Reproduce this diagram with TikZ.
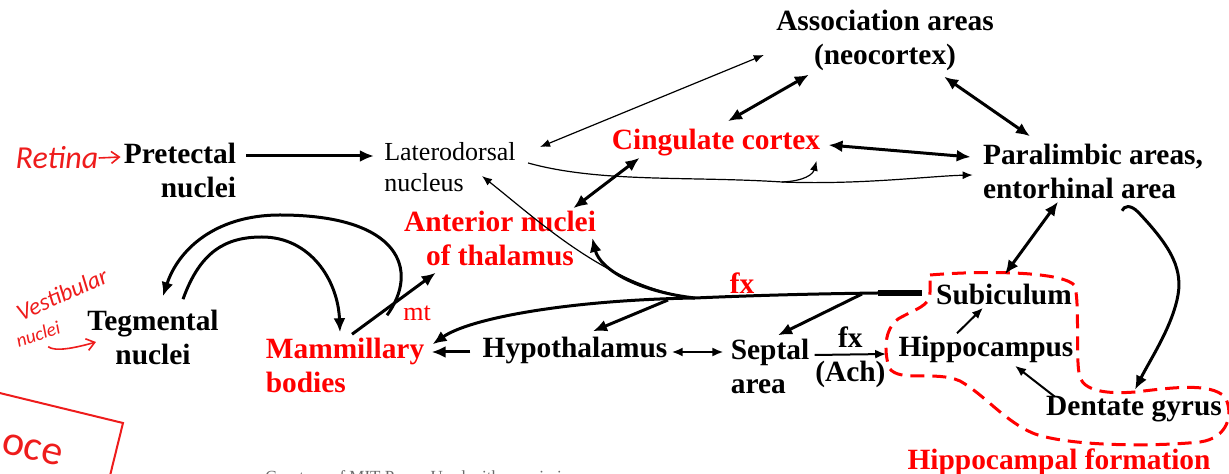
\documentclass[tikz,border=0pt]{standalone}
\usepackage{fontspec}
\setmainfont{Liberation Serif}
\newfontfamily\handfont{Carlito}
\usepackage{tikz}
\usepackage{xcolor}
\usetikzlibrary{arrows.meta,calc}
\definecolor{ink}{HTML}{000000}
\definecolor{limred}{HTML}{FF0000}
\definecolor{handred}{HTML}{EE1C1C}
\definecolor{notegray}{HTML}{6A6A6A}
\tikzset{
  areabox/.style={inner sep=0pt,align=center,text=ink,
                  font=\fontsize{14.7}{17}\selectfont\bfseries},
  redbox/.style={areabox,text=limred},
  plainbox/.style={inner sep=0pt,align=left,text=ink,
                   font=\fontsize{13}{15.5}\selectfont},
  thickarr/.style={-{Latex[length=7pt,width=6pt]},line width=1.5pt},
  dblarr/.style={{Latex[length=7pt,width=6pt]}-{Latex[length=7pt,width=6pt]},line width=1.5pt},
  midarr/.style={-{Latex[length=5.5pt,width=4.5pt]},line width=1pt},
  midboth/.style={{Latex[length=5.5pt,width=4.5pt]}-{Latex[length=5.5pt,width=4.5pt]},line width=1pt},
  thinarr/.style={-{Latex[length=5pt,width=4pt]},line width=0.6pt},
  thinboth/.style={{Latex[length=5pt,width=4pt]}-{Latex[length=5pt,width=4pt]},line width=0.6pt},
  handink/.style={inner sep=0pt,text=handred,font=\handfont\itshape\fontsize{16}{18}\selectfont},
  handarr/.style={-{Straight Barb[length=4pt,width=6pt]},draw=handred,line width=0.8pt},
  hippoline/.style={draw=limred,line width=1.5pt,dash pattern=on 7pt off 4pt}
}

\begin{document}
\begin{tikzpicture}[x=0.5pt,y=-0.5pt,>=Latex]
  \useasboundingbox (0,0) rectangle (1229,474);
  \clip (0,0) rectangle (1229,474);

  \node[areabox] (assoc) at (885,40) {Association areas\\(neocortex)};
  \node[areabox,align=right] (pret) at (180,170) {Pretectal\\nuclei};
  \node[plainbox] (later) at (450,167) {Laterodorsal\\nucleus};
  \node[redbox] (cing) at (716,143) {Cingulate cortex};
  \node[areabox,align=left] (para) at (1093,171) {Paralimbic areas,\\entorhinal area};
  \node[redbox] (ant) at (500,238) {Anterior nuclei\\of thalamus};
  \node[areabox] (teg) at (153,337) {Tegmental\\nuclei};
  \node[redbox,align=left] (mam) at (345,365) {Mammillary\\bodies};
  \node[areabox] (hypo) at (575,350) {Hypothalamus};
  \node[areabox,align=left] (sept) at (770,366) {Septal\\area};
  \node[areabox] (hippo) at (986,349) {Hippocampus};
  \node[areabox] (subic) at (1004,294) {Subiculum};
  \node[areabox] (dent) at (1134,409) {Dentate gyrus};
  \node[redbox] (hform) at (1059,462) {Hippocampal formation};
  \node[redbox] (fxlbl) at (742,283) {fx};
  \node[plainbox,text=limred] (mtlbl) at (417,313) {mt};

  \draw[hippoline] (930,275) .. controls (990,270) and (1065,272) .. (1075,286)
    .. controls (1080,310) and (1075,360) .. (1080,378)
    .. controls (1086,392) and (1110,394) .. (1135,392)
    .. controls (1170,388) and (1210,382) .. (1225,397)
    .. controls (1234,414) and (1228,438) .. (1200,442)
    .. controls (1150,447) and (1070,446) .. (1035,434)
    .. controls (1005,422) and (985,395) .. (960,381)
    .. controls (935,370) and (900,383) .. (889,368)
    .. controls (884,350) and (884,330) .. (898,319)
    .. controls (915,309) and (931,306) .. (930,292)
    -- cycle;

  \draw[thickarr] ($(pret.east)+(10,-14)$) -- ($(later.west)+(-10,-11)$);
  \draw[thinboth] ($(assoc.west)+(-12,15)$) -- ($(later.north east)+(24,5)$);
  \coordinate (ldfork) at (782,182);
  \draw[thinarr] ($(later.east)+(12,-4)$) .. controls (600,183) and (690,176) .. (ldfork)
    .. controls (860,185) and (930,176) .. ($(para.west)+(-10,4)$);
  \draw[thinarr] (ldfork) .. controls (805,181) and (813,174) .. ($(cing.south east)+(-4,4)$);
  \draw[dblarr] ($(cing.north)+(12,-8)$) -- ($(assoc.south west)+(33,4)$);
  \draw[dblarr] ($(assoc.south east)+(-50,6)$) -- ($(para.north)+(-63,-7)$);
  \draw[dblarr] ($(cing.east)+(8,2)$) -- ($(para.west)+(-12,-14)$);
  \draw[dblarr] ($(cing.south west)+(28,1)$) -- ($(ant.north east)+(-23,-2)$);
  \draw[dblarr] ($(para.south)+(-35,3)$) -- ($(subic.north)+(1,-9)$);
  \draw[thickarr] ($(para.south)+(29,12)$) .. controls (1124,206) and (1130,204) .. (1138,212)
    .. controls (1172,248) and (1184,270) .. (1177,300)
    .. controls (1170,330) and (1150,360) .. ($(dent.north)+(1,-6)$);

  \draw[line width=3pt] ($(subic.west)+(-14,-1)$) -- ++(-44,0) coordinate (fxbend);
  \coordinate (fxfork) at (695,298);
  \coordinate (fxhypo) at (668,300);
  \coordinate (fxsept) at (862,294);
  \draw[thickarr] (fxbend) .. controls (800,294) and (740,296) .. (fxfork)
    .. controls (570,300) and (470,318) .. ($(mam.north east)+(8,7)$);
  \draw[thickarr] (fxfork) .. controls (640,292) and (600,270) .. ($(ant.east)+(-4,0)$);
  \draw[thickarr] (fxhypo) -- ($(hypo.north)+(18,-5)$);
  \draw[thickarr] (fxsept) -- ($(sept.north)+(8,-3)$);
  \draw[thinarr] (fxfork) .. controls (610,288) and (540,222) .. ($(later.south)+(32,-16)$);

  \draw[thickarr] ($(hypo.west)+(-12,2)$) -- ($(mam.east)+(7,-13)$);
  \draw[midboth] ($(hypo.east)+(4,2)$) -- ($(sept.west)+(-7,-14)$);
  \draw[midarr] ($(sept.east)+(5,-11)$) --
    node[areabox,above=3pt] (fxach) {fx}
    node[areabox,below=3pt] (achlbl) {(Ach)} ($(hippo.west)+(-12,5)$);
  \draw[midarr] ($(hippo.north)+(-29,-2)$) -- ($(subic.south)+(-21,3)$);
  \draw[midarr] ($(dent.north west)+(9,1)$) -- ($(hippo.south)+(29,3)$);

  \draw[thickarr] ($(mam.north)+(7,-3)$) -- ($(ant.south west)+(32,7)$);
  \draw[thickarr] ($(mam.north)+(42,-22)$) .. controls (420,270) and (400,215) .. (280,215)
    .. controls (215,215) and (178,250) .. ($(teg.north)+(10,-13)$);
  \draw[thickarr] ($(teg.north)+(30,-10)$) .. controls (200,252) and (225,237) .. (262,237)
    .. controls (310,237) and (338,280) .. ($(mam.north)+(-5,-5)$);

  \node[handink] (retina) at (57,158) {Retina};
  \draw[handarr] (retina.east) -- ($(pret.west)+(-3,-13)$);
  \node[handink,rotate=24,font=\handfont\itshape\fontsize{12}{14}\selectfont] (vest) at (62,294) {Vestibular};
  \node[handink,rotate=18,font=\handfont\itshape\fontsize{9.5}{11}\selectfont] (vestnuc) at (38,334) {nuclei};
  \draw[handarr] ($(vestnuc.south)+(8,6)$) .. controls (55,352) and (75,348) .. ($(teg.west)+(9,5)$);

  \draw[handred,line width=1pt] (-169,352) -- (123,423) -- (87,569) -- (-205,498) -- cycle;
  \node[anchor=base west,inner sep=0pt,text=handred,rotate=-13.7,
        font=\handfont\fontsize{21}{24}\selectfont] (stamp) at (0,452) {oce};
  \node[anchor=base west,inner sep=0pt,text=notegray,
        font=\fontsize{8.5}{10}\selectfont] (credit) at (265,482) {Courtesy of MIT Press. Used with permission.};
\end{tikzpicture}
\end{document}
